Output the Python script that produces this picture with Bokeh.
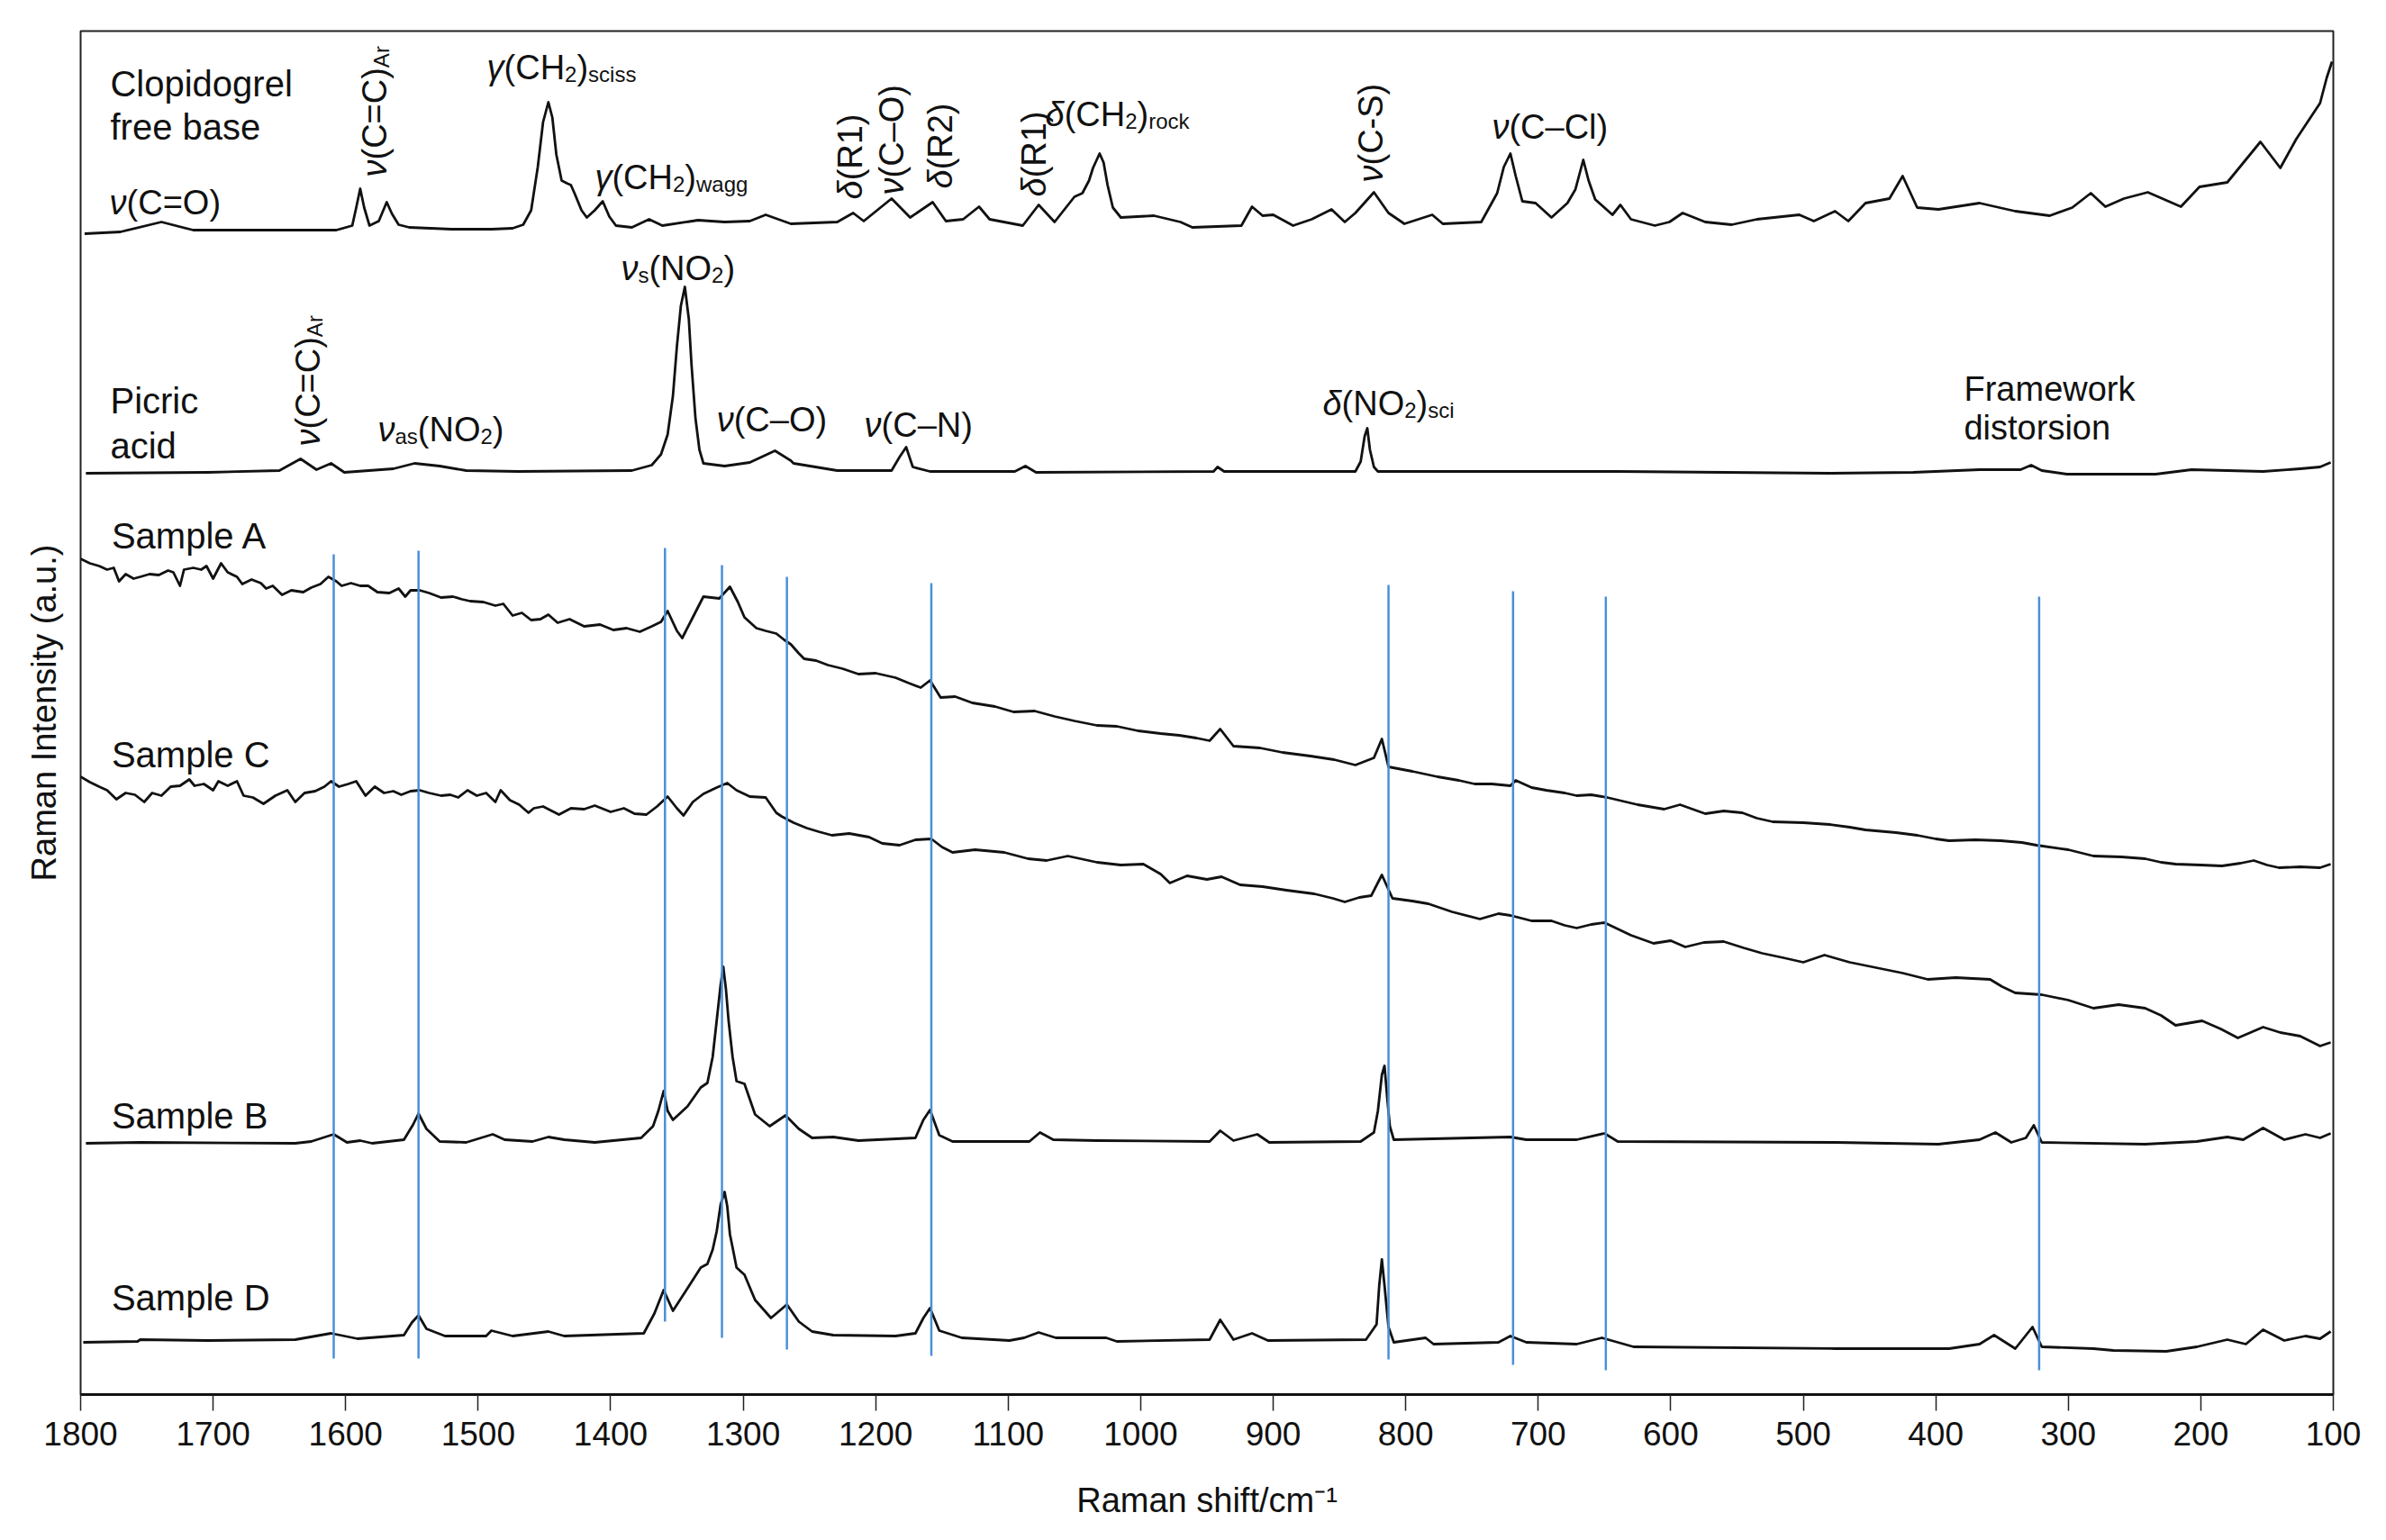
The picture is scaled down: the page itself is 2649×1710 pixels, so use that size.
from math import pi
from bokeh.plotting import figure
from bokeh.models import Range1d, FixedTicker, ColumnDataSource
from bokeh.embed import file_html
from bokeh.resources import INLINE
from bokeh.core.properties import value

FONT = "Liberation Sans"

# ---------------- data: (Raman shift cm-1, intensity a.u. relative to the trace baseline) -------------
clopidogrel = [
    (1797, -4), (1770, -2), (1739, 9), (1715, 0), (1650, 0), (1607, 0), (1595, 5), (1592, 25), (1589, 46),
    (1586, 25), (1582, 5), (1575, 10), (1569, 31), (1565, 18), (1560, 6), (1552, 3), (1520, 1), (1490, 1),
    (1474, 2), (1466, 6), (1460, 22), (1455, 70), (1451, 120), (1447, 142), (1444, 125), (1441, 84),
    (1437, 55), (1433, 52), (1430, 50), (1427, 40), (1422, 22), (1418, 14), (1412, 22), (1406, 32),
    (1401, 15), (1396, 5), (1384, 3), (1371, 12), (1361, 5),
    (1334, 11), (1314, 9), (1295, 10), (1283, 17), (1264, 7), (1229, 9), (1217, 19), (1209, 10), (1188, 35),
    (1174, 14), (1157, 31), (1147, 10), (1134, 12), (1122, 26), (1114, 12), (1089, 5), (1077, 28), (1065, 9),
    (1050, 37), (1044, 41), (1039, 55), (1036, 69), (1031, 85), (1028, 75), (1025, 50), (1021, 25),
    (1015, 14), (990, 16), (970, 9), (961, 3),
    (924, 5), (916, 26), (908, 16), (900, 17), (885, 5), (871, 12), (856, 23), (846, 9), (838, 19), (824, 42),
    (813, 19), (801, 7), (780, 17), (772, 7), (743, 9), (731, 41), (726, 70), (721, 85), (717, 60), (712, 32),
    (702, 30), (690, 14), (678, 30), (672, 45), (666, 78), (662, 55), (657, 34), (644, 17), (638, 28),
    (630, 12), (612, 5), (601, 9), (591, 19), (574, 9),
    (554, 6), (535, 12), (503, 17), (492, 10), (476, 21), (466, 10), (453, 30), (435, 35), (425, 60), (414, 25),
    (398, 23), (367, 30), (340, 21), (314, 16), (297, 25), (283, 41), (272, 26), (258, 35), (240, 42), (215, 26),
    (201, 48), (180, 53), (155, 98), (140, 69), (128, 101), (110, 141), (105, 169), (101, 187),
]

picric = [
    (1796, -1), (1704, 0), (1650, 2), (1634, 15), (1622, 3), (1611, 10), (1601, 0), (1564, 4), (1548, 10),
    (1529, 7), (1509, 2), (1470, 1), (1384, 2), (1369, 8), (1362, 20), (1357, 42), (1353, 85), (1350, 140),
    (1347, 185), (1344, 206), (1341, 170), (1339, 120), (1336, 60), (1333, 25), (1330, 10), (1314, 7),
    (1295, 11), (1276, 24), (1264, 13), (1262, 10), (1229, 2),
    (1188, 2), (1182, 17), (1177, 28), (1172, 6), (1159, 1), (1095, 1), (1087, 7), (1079, 0), (945, 1),
    (942, 6), (937, 1), (838, 1), (834, 12), (831, 40), (829, 49), (827, 25), (824, 6), (821, 1), (640, 1),
    (560, 0), (480, -1), (417, 0), (367, 3), (336, 3), (328, 8), (320, 2), (301, -2), (234, -2), (207, 3),
    (153, 1), (125, 4), (110, 6), (102, 11),
]

sample_a = [
    (1800, 328), (1793, 323), (1786, 320), (1780, 316), (1775, 318), (1771, 303), (1766, 311), (1760, 306),
    (1755, 308), (1748, 311), (1741, 310), (1734, 315), (1730, 313), (1725, 298), (1722, 316), (1715, 318),
    (1709, 316), (1705, 320), (1700, 306), (1694, 323), (1689, 313), (1682, 308), (1678, 300), (1671, 305),
    (1664, 301), (1660, 295), (1655, 298), (1648, 288), (1641, 293), (1632, 291), (1626, 296), (1619, 300),
    (1613, 308), (1607, 303), (1603, 298), (1596, 301), (1589, 298), (1583, 298), (1576, 291), (1567, 290),
    (1560, 295), (1555, 286), (1551, 293), (1544, 293), (1537, 290), (1528, 285), (1519, 286), (1512, 283),
    (1506, 281), (1496, 280), (1487, 276), (1481, 278), (1474, 265), (1467, 268), (1460, 260), (1453, 261),
    (1447, 266), (1440, 257), (1431, 261), (1420, 253), (1408, 255), (1398, 249), (1388, 251), (1378, 247),
    (1369, 253), (1362, 258), (1357, 270), (1350, 248), (1346, 240), (1338, 263), (1330, 286), (1318, 284),
    (1310, 297), (1304, 280), (1299, 263), (1290, 251), (1283, 248), (1275, 245), (1269, 238), (1264, 233),
    (1258, 223), (1254, 217), (1245, 215), (1236, 210), (1225, 206), (1213, 200), (1200, 201), (1185, 196),
    (1175, 190), (1166, 185), (1159, 193), (1151, 174), (1140, 175), (1127, 168), (1110, 164), (1096, 158),
    (1080, 159), (1065, 153), (1050, 148), (1033, 143), (1018, 142), (1002, 137), (985, 134), (971, 132),
    (958, 129), (948, 126), (940, 139), (930, 120), (910, 118), (893, 113), (872, 109), (854, 105), (838, 99),
    (824, 107), (818, 128), (813, 97), (795, 92), (776, 86), (760, 82), (748, 78), (735, 78), (721, 76),
    (717, 82), (705, 74), (694, 71), (680, 68), (671, 65), (660, 66), (648, 63), (625, 55), (605, 50),
    (593, 55), (574, 45), (560, 48), (546, 46), (535, 40), (523, 36), (500, 35), (480, 33), (465, 30),
    (453, 27), (430, 24), (414, 21), (400, 17), (390, 15), (370, 16), (351, 15), (335, 13), (324, 10),
    (300, 5), (281, -2), (260, -3), (242, -5), (230, -9), (219, -11), (200, -12), (184, -13), (170, -10),
    (160, -7), (150, -12), (141, -15), (125, -14), (110, -15), (102, -11),
]

sample_c = [
    (1800, 386), (1793, 380), (1786, 375), (1780, 371), (1773, 361), (1766, 368), (1759, 366), (1752, 358),
    (1746, 368), (1739, 365), (1732, 375), (1725, 376), (1718, 383), (1714, 376), (1707, 378), (1700, 371),
    (1696, 381), (1689, 376), (1682, 381), (1677, 365), (1670, 363), (1662, 356), (1653, 365), (1644, 371),
    (1638, 358), (1631, 368), (1623, 370), (1616, 375), (1611, 381), (1605, 375), (1598, 378), (1592, 381),
    (1585, 365), (1578, 375), (1571, 368), (1564, 370), (1558, 366), (1551, 370), (1544, 371), (1537, 368),
    (1528, 365), (1521, 366), (1515, 363), (1508, 371), (1501, 365), (1494, 368), (1487, 358), (1483, 371),
    (1476, 360), (1469, 355), (1462, 346), (1458, 351), (1451, 353), (1439, 344), (1430, 351), (1420, 350),
    (1412, 354), (1400, 347), (1390, 351), (1382, 345), (1373, 344), (1365, 353), (1357, 364), (1350, 351),
    (1345, 343), (1338, 358), (1330, 367), (1320, 374), (1312, 379), (1305, 371), (1295, 364), (1283, 363),
    (1275, 346), (1271, 342), (1262, 335), (1252, 329), (1243, 325), (1233, 321), (1220, 323), (1205, 319),
    (1195, 312), (1182, 310), (1170, 316), (1158, 317), (1150, 308), (1142, 302), (1125, 305), (1103, 302),
    (1085, 295), (1071, 293), (1055, 298), (1033, 291), (1015, 288), (998, 289), (985, 278), (978, 268),
    (965, 276), (950, 272), (939, 275), (925, 266), (908, 264), (890, 260), (869, 256), (855, 251), (846, 247),
    (835, 252), (826, 254), (818, 277), (810, 251), (795, 248), (783, 245), (765, 236), (744, 228), (730, 234),
    (721, 232), (705, 226), (690, 226), (680, 221), (671, 218), (660, 222), (650, 224), (630, 210), (613, 201),
    (600, 204), (589, 197), (575, 202), (560, 203), (545, 196), (531, 190), (515, 185), (500, 180), (484, 188),
    (465, 180), (445, 174), (425, 168), (406, 161), (385, 163), (359, 161), (350, 153), (340, 146), (320, 144),
    (300, 138), (281, 129), (262, 133), (242, 129), (230, 121), (219, 110), (199, 115), (185, 106), (172, 96),
    (153, 108), (140, 102), (125, 98), (110, 87), (102, 91),
]

sample_b = [
    (1796, -1), (1755, 0), (1638, -1), (1626, 1), (1609, 9), (1599, 0), (1589, 2), (1580, -1), (1556, 3),
    (1549, 20), (1545, 32), (1539, 15), (1529, 1), (1509, 0), (1489, 9), (1480, 3), (1459, 1), (1447, 6),
    (1435, 3), (1412, 0), (1377, 5), (1368, 18), (1364, 35), (1360, 57), (1357, 35), (1353, 25), (1342, 40),
    (1332, 61), (1327, 66), (1323, 95), (1320, 135), (1317, 175), (1315, 195), (1313, 170), (1311, 135),
    (1308, 95), (1305, 68), (1299, 65), (1291, 31), (1280, 18), (1268, 30),
    (1258, 15), (1248, 5), (1232, 6), (1213, 2), (1170, 5), (1164, 25), (1159, 36), (1152, 8), (1142, 1),
    (1084, 1), (1076, 11), (1066, 3), (1033, 2), (948, 1), (940, 13), (930, 2), (912, 9), (903, 0), (834, 1),
    (824, 11), (821, 35), (818, 75), (816, 85), (814, 50), (812, 18), (809, 3), (721, 6), (709, 3), (671, 3),
    (650, 10), (640, 1), (476, 0), (398, -2), (367, 3), (355, 11), (343, 0), (332, 5), (326, 19), (320, 0),
    (242, -2), (203, 1), (180, 6), (168, 3), (153, 16), (137, 3), (121, 9), (110, 5), (102, 10),
]

sample_d = [
    (1798, -3), (1757, -2), (1755, 0), (1704, -1), (1638, 0), (1611, 7), (1591, 1), (1556, 5), (1550, 19),
    (1545, 27), (1539, 12), (1525, 4), (1494, 4), (1490, 10), (1474, 4), (1447, 9), (1435, 4), (1375, 7),
    (1367, 29), (1360, 55), (1353, 32), (1342, 57), (1332, 80), (1327, 84), (1323, 100), (1320, 120),
    (1317, 150), (1314, 164), (1312, 148), (1310, 117), (1307, 95), (1305, 80), (1299, 72), (1291, 44),
    (1279, 24), (1267, 39), (1258, 20), (1248, 9), (1232, 5),
    (1185, 4), (1170, 7), (1164, 24), (1159, 35), (1152, 10), (1135, 2), (1099, -1), (1088, 2), (1077, 8),
    (1064, 2), (1026, 2), (1018, -2), (948, 0), (940, 22), (930, 0), (916, 7), (904, -1), (830, 0), (822, 17),
    (820, 60), (818, 89), (816, 60), (813, 14), (809, -3), (785, 2), (779, -5), (730, -3), (721, 4), (709, -3),
    (671, -5), (652, 2), (628, -8), (476, -10), (390, -10), (367, -5), (356, 5), (340, -10), (327, 14),
    (320, -8), (281, -10), (266, -12), (226, -13), (203, -8), (180, 0), (166, -5), (153, 11), (137, -1),
    (121, 4), (110, 1), (102, 9),
]

series = [clopidogrel, picric, sample_a, sample_c, sample_b, sample_d]
stack_offsets = [1293, 1024, 600, 300, 280, 61]

# blue marker lines: Raman shift and vertical extent
band_shift = [1609, 1545, 1359, 1316, 1267, 1158, 813, 719, 649, 322]
band_low = [40, 40, 81, 63, 50, 43, 39, 33, 27, 27]
band_high = [933, 937, 940, 921, 908, 901, 899, 892, 886, 886]

tick_values = list(range(1800, 99, -100))

# annotations: segments (text, kind: p plain label / n normal / i italic / s subscript), shift, height, vertical?
annotations = [
    ([("Clopidogrel", "p")], 1777.6, 1441, False),
    ([("free base", "p")], 1777.6, 1393, False),
    ([("ν", "i"), ("(C=O)", "n")], 1778.2, 1309, False),
    ([("ν", "i"), ("(C=C)", "n"), ("Ar", "s")], 1568.2, 1352, True),
    ([("γ", "i"), ("(CH", "n"), ("2", "s"), (")", "n"), ("sciss", "s")], 1493.4, 1459, False),
    ([("γ", "i"), ("(CH", "n"), ("2", "s"), (")", "n"), ("wagg", "s")], 1411.9, 1337, False),
    ([("δ", "i"), ("(R1)", "n")], 1209.3, 1327, True),
    ([("ν", "i"), ("(C–O)", "n")], 1177.7, 1332, True),
    ([("δ", "i"), ("(R2)", "n")], 1141.3, 1339, True),
    ([("δ", "i"), ("(R1)", "n")], 1070.6, 1330, True),
    ([("δ", "i"), ("(CH", "n"), ("2", "s"), (")", "n"), ("rock", "s")], 1072.0, 1407, False),
    ([("ν", "i"), ("(C-S)", "n")], 816.0, 1346, True),
    ([("ν", "i"), ("(C–Cl)", "n")], 734.9, 1393, False),
    ([("Picric", "p")], 1777.6, 1089, False),
    ([("acid", "p")], 1777.6, 1039, False),
    ([("ν", "i"), ("(C=C)", "n"), ("Ar", "s")], 1618.5, 1053, True),
    ([("ν", "i"), ("as", "s"), ("(NO", "n"), ("2", "s"), (")", "n")], 1575.7, 1057, False),
    ([("ν", "i"), ("s", "s"), ("(NO", "n"), ("2", "s"), (")", "n")], 1392.2, 1236, False),
    ([("ν", "i"), ("(C–O)", "n")], 1320.0, 1068, False),
    ([("ν", "i"), ("(C–N)", "n")], 1208.6, 1062, False),
    ([("δ", "i"), ("(NO", "n"), ("2", "s"), (")", "n"), ("sci", "s")], 862.7, 1086, False),
    ([("Framework", "n")], 378.7, 1102, False),
    ([("distorsion", "n")], 378.7, 1059, False),
    ([("Sample A", "p")], 1776.6, 939, False),
    ([("Sample C", "p")], 1776.6, 696, False),
    ([("Sample B", "p")], 1776.6, 295, False),
    ([("Sample D", "p")], 1776.6, 93, False),
]

# ---------------- figure ----------------
FRAME_W, FRAME_H = 2501, 1514
X0, X1 = 1800, 100
p = figure(frame_width=FRAME_W, frame_height=FRAME_H,
           x_range=Range1d(X0, X1), y_range=Range1d(0, FRAME_H),
           output_backend="svg", toolbar_location=None,
           min_border_left=89, min_border_right=51, min_border_top=34, min_border_bottom=154)
p.grid.visible = False
p.background_fill_color = "white"
p.border_fill_color = "white"
p.outline_line_color = "#222222"
p.outline_line_width = 2

xa = p.xaxis[0]
xa.ticker = FixedTicker(ticks=tick_values)
xa.major_tick_out = 18
xa.major_tick_in = 0
xa.minor_tick_line_color = None
xa.major_tick_line_width = 1.5
xa.major_tick_line_color = "#222222"
xa.axis_line_width = 3
xa.axis_line_color = "#111111"
xa.major_label_text_font = FONT
xa.major_label_text_font_size = "37px"
xa.major_label_text_color = "#111111"
xa.major_label_standoff = 12
xa.axis_label = "Raman shift/cm⁻¹"
xa.axis_label_text_font = FONT
xa.axis_label_text_font_size = "38px"
xa.axis_label_text_font_style = "normal"
xa.axis_label_text_color = "#111111"
xa.axis_label_standoff = 37

ya = p.yaxis[0]
ya.ticker = FixedTicker(ticks=[])
ya.axis_line_color = None
ya.major_tick_line_color = None
ya.minor_tick_line_color = None
ya.axis_label = "Raman Intensity (a.u.)"
ya.axis_label_text_font = FONT
ya.axis_label_text_font_size = "38px"
ya.axis_label_text_font_style = "normal"
ya.axis_label_text_color = "#111111"
ya.axis_label_standoff = 20

PX_PER_UNIT_X = FRAME_W / (X0 - X1)

for data, off in zip(series, stack_offsets):
    xs = [d[0] for d in data]
    ys = [d[1] + off for d in data]
    p.line(xs, ys, line_color="#111111", line_width=2.8, line_join="round")

p.segment(x0=band_shift, y0=band_low, x1=band_shift, y1=band_high,
          line_color="#4A90D9", line_width=2.5)

# ---------------- text ----------------
CW = {'(': 333, ')': 333, 'C': 722, 'O': 778, '=': 584, 'N': 722, 'H': 722, 'S': 667, 'l': 222,
      'R': 722, '1': 556, '2': 556, '–': 556, '-': 333, 'A': 667, 'r': 333, 's': 500, 'c': 500,
      'i': 222, 'g': 556, 'w': 722, 'a': 556, 'o': 556, 'k': 500, 'ν': 500, 'γ': 500, 'δ': 556, ' ': 278}
SIZES = {"p": 40, "n": 38, "i": 38, "s": 24}
STYLES = {"p": "normal", "n": "normal", "i": "italic", "s": "normal"}
SUB_DROP = 8
LIFT = 15  # raise all annotation text (in the glyph's own up direction)


def width(s, size):
    return sum(CW.get(c, 556) for c in s) * size / 1000.0


groups = {k: dict(x=[], y=[], text=[], angle=[]) for k in SIZES}
for segs, sx, sy, vertical in annotations:
    pos = 0.0
    for txt, kind in segs:
        size = SIZES[kind]
        drop = SUB_DROP if kind == "s" else 0
        if vertical:
            gx, gy, ang = sx + (LIFT - drop) / PX_PER_UNIT_X, sy + pos, pi / 2
        else:
            gx, gy, ang = sx - pos / PX_PER_UNIT_X, sy - drop + LIFT, 0.0
        g = groups[kind]
        g["x"].append(gx)
        g["y"].append(gy)
        g["text"].append(txt)
        g["angle"].append(ang)
        pos += width(txt, size)

for kind in SIZES:
    p.text(x="x", y="y", text="text", angle="angle", source=ColumnDataSource(groups[kind]),
           text_font=value(FONT), text_font_size=f"{SIZES[kind]}px", text_font_style=STYLES[kind],
           text_color="#111111", text_align="left", text_baseline="alphabetic")

open("out.html", "w").write(file_html(p, INLINE))
